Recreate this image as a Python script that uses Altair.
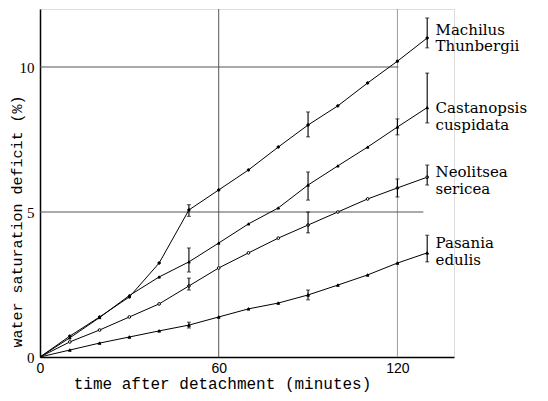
import altair as alt
import pandas as pd

# ---- data ----
minutes = [0, 10, 20, 30, 40, 50, 60, 70, 80, 90, 100, 110, 120, 130]
machilus = [0, 0.72, 1.38, 2.07, 3.24, 5.07, 5.76, 6.45, 7.24, 8.0, 8.66, 9.45, 10.2, 11.0]
castanopsis = [0, 0.66, 1.36, 2.12, 2.76, 3.28, 3.93, 4.59, 5.14, 5.93, 6.59, 7.24, 7.93, 8.6]
neolitsea = [0, 0.52, 0.93, 1.38, 1.83, 2.45, 3.07, 3.59, 4.1, 4.55, 5.0, 5.45, 5.83, 6.2]
pasania = [0, 0.24, 0.48, 0.69, 0.9, 1.1, 1.38, 1.66, 1.86, 2.14, 2.48, 2.83, 3.24, 3.59]

series_names = ["Machilus", "Castanopsis", "Neolitsea", "Pasania"]
series_values = [machilus, castanopsis, neolitsea, pasania]

# error bars / end brackets
err_series = ["Machilus", "Machilus", "Machilus",
              "Castanopsis", "Castanopsis", "Castanopsis", "Castanopsis",
              "Neolitsea", "Neolitsea", "Neolitsea", "Neolitsea",
              "Pasania", "Pasania", "Pasania"]
err_minutes = [50, 90, 130,
               50, 90, 120, 130,
               50, 90, 120, 130,
               50, 90, 130]
err_low = [4.85, 7.59, 10.66,
           2.93, 5.41, 7.66, 8.07,
           2.31, 4.28, 5.52, 5.93,
           1.0, 1.97, 3.28]
err_high = [5.25, 8.45, 11.69,
            3.76, 6.38, 8.21, 9.79,
            2.72, 5.0, 6.14, 6.62,
            1.2, 2.31, 4.2]

# species labels (two lines each)
label_text = ["Machilus", "Thunbergii", "Castanopsis", "cuspidata",
              "Neolitsea", "sericea", "Pasania", "edulis"]
label_y = [11.28, 10.72, 8.59, 8.0, 6.38, 5.79, 3.93, 3.34]
label_x = 132.8

# reference lines
grid_x = [60, 120, 0, 0]
grid_x2 = [60, 120, 120.3, 128.7]
grid_y = [0, 0, 10, 5]
grid_y2 = [12, 12, 10, 5]
grid_col = ["a", "b", "a", "a"]

# ---- tables ----
rows = []
for name, vals in zip(series_names, series_values):
    for m, v in zip(minutes, vals):
        rows.append({"series": name, "minutes": m, "wsd": v})
df = pd.DataFrame(rows)

err_df = pd.DataFrame({"series": err_series, "minutes": err_minutes,
                       "lo": err_low, "hi": err_high})
err_ends = pd.concat([
    err_df[["minutes"]].assign(v=err_df["lo"]),
    err_df[["minutes"]].assign(v=err_df["hi"]),
])
lab_df = pd.DataFrame({"text": label_text, "y": label_y, "x": [label_x] * len(label_text)})
grid_df = pd.DataFrame({"x": grid_x, "x2": grid_x2, "y": grid_y, "y2": grid_y2, "c": grid_col})

xscale = alt.Scale(domain=[0, 139], nice=False, zero=False)
yscale = alt.Scale(domain=[0, 12], nice=False)

x_axis = alt.Axis(values=[0, 60, 120], grid=False, ticks=False,
                  domainColor="black", domainWidth=1.5,
                  labelFont="Liberation Sans", labelFontSize=14, labelColor="black",
                  labelPadding=4, labelFlush=False,
                  title="time after detachment (minutes)",
                  titleFont="Liberation Mono", titleFontSize=16, titleFontWeight="normal",
                  titleColor="black", titlePadding=0, titleX=182)
y_axis = alt.Axis(values=[0, 5, 10], grid=False, ticks=False,
                  domainColor="black", domainWidth=1.5,
                  labelFont="Liberation Serif", labelFontSize=15, labelColor="black",
                  labelPadding=6,
                  title="water saturation deficit (%)",
                  titleFont="Liberation Mono", titleFontSize=15, titleFontWeight="normal",
                  titleColor="black", titleX=-24, titleY=212, titleAngle=270,
                  titleAlign="center", titleBaseline="middle")

grid = alt.Chart(grid_df).mark_rule(strokeWidth=1).encode(
    x=alt.X("x:Q", scale=xscale, axis=x_axis),
    x2="x2:Q",
    y=alt.Y("y:Q", scale=yscale, axis=y_axis),
    y2="y2:Q",
    color=alt.Color("c:N", scale=alt.Scale(domain=["a", "b"], range=["#555555", "#9a9a9a"]), legend=None),
)

lines = alt.Chart(df).mark_line(color="black", strokeWidth=1).encode(
    x=alt.X("minutes:Q", scale=xscale),
    y=alt.Y("wsd:Q", scale=yscale),
    detail="series:N",
)

points = alt.Chart(df).transform_filter("datum.minutes > 0").mark_point(
    stroke="black", strokeWidth=1, opacity=1
).encode(
    x=alt.X("minutes:Q", scale=xscale),
    y=alt.Y("wsd:Q", scale=yscale),
    shape=alt.Shape("series:N", scale=alt.Scale(domain=series_names,
                    range=["circle", "triangle-up", "circle", "triangle-up"]), legend=None),
    fill=alt.Fill("series:N", scale=alt.Scale(domain=series_names,
                  range=["black", "black", "white", "black"]), legend=None),
    size=alt.Size("series:N", scale=alt.Scale(domain=series_names,
                  range=[6, 8, 16, 6]), legend=None),
)

err_rules = alt.Chart(err_df).mark_rule(color="black", strokeWidth=1.1).encode(
    x=alt.X("minutes:Q", scale=xscale),
    y=alt.Y("lo:Q", scale=yscale),
    y2="hi:Q",
)
err_caps = alt.Chart(err_ends).mark_tick(color="black", orient="horizontal",
                                         size=4, thickness=1).encode(
    x=alt.X("minutes:Q", scale=xscale),
    y=alt.Y("v:Q", scale=yscale),
)

labels = alt.Chart(lab_df).mark_text(align="left", baseline="middle",
                                     font="DejaVu Serif", fontSize=15, color="black").encode(
    x=alt.X("x:Q", scale=xscale),
    y=alt.Y("y:Q", scale=yscale),
    text="text:N",
)

chart = alt.layer(grid, lines, points, err_rules, err_caps, labels).properties(
    width=414, height=348,
    autosize=alt.AutoSizeParams(type="none"),
    padding={"left": 32, "top": 1, "right": 86, "bottom": 36},
).configure_view(stroke=None).configure(background="white")

chart.save("out.html", embed_options={"renderer": "svg", "actions": False})
